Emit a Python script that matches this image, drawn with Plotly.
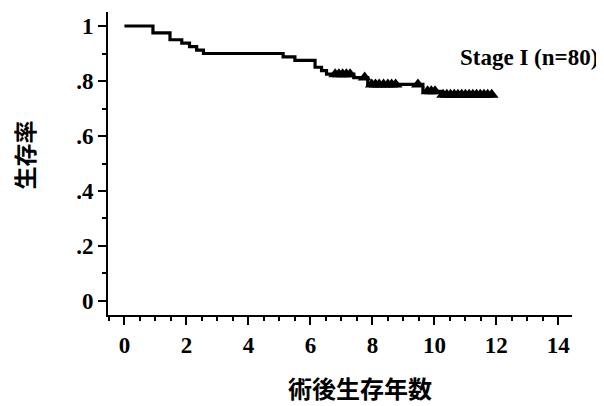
import plotly.graph_objects as go
import numpy as np

# Kaplan-Meier step data (time in years, survival after step)
step_times = [0.0, 0.92, 1.47, 1.85, 2.1, 2.33, 2.55, 5.12, 5.5, 6.15, 6.36, 6.52, 7.4, 7.85, 9.63, 10.2, 11.85]
step_surv = [1.0, 0.975, 0.95, 0.9375, 0.925, 0.9125, 0.9, 0.8875, 0.875, 0.85, 0.8375, 0.825, 0.8125, 0.7875, 0.7625, 0.75, 0.75]

# Censored observations (time in years)
censor_times = [6.8, 6.92, 7.04, 7.16, 7.28, 7.75, 7.98, 8.1, 8.22, 8.36, 8.5, 8.62, 8.75, 9.47,
                9.78, 9.9, 10.02, 10.28, 10.4, 10.52, 10.64, 10.76, 10.88, 11.0, 11.12, 11.24,
                11.36, 11.48, 11.6, 11.72, 11.85]

x_ticks = [0, 2, 4, 6, 8, 10, 12, 14]
y_ticks = [0, 0.2, 0.4, 0.6, 0.8, 1.0]
y_tick_labels = ["0", ".2", ".4", ".6", ".8", "1"]

st = np.array(step_times)
ss = np.array(step_surv)
censor_surv = [float(ss[np.searchsorted(st, t, side="right") - 1]) for t in censor_times]

fig = go.Figure()
fig.add_trace(go.Scatter(x=step_times, y=step_surv, mode="lines", line=dict(shape="hv", color="black", width=3.2),
                         showlegend=False, hoverinfo="skip"))
fig.add_trace(go.Scatter(x=censor_times, y=censor_surv, mode="markers",
                         marker=dict(symbol="triangle-up", size=12, color="black"), showlegend=False, cliponaxis=False))

serif = dict(family="Liberation Serif", size=23, color="black", weight="bold")
cjk = dict(family="Noto Sans CJK JP", size=23, color="black", weight="bold")

fig.add_annotation(x=1.06, xref="paper", y=0.885, yref="y", text="Stage I (n=80)", showarrow=False, xanchor="right",
                   font=dict(family="Liberation Serif", size=23, color="black", weight="bold"))
fig.add_annotation(x=0.543, xref="paper", y=-0.238, yref="paper", text="術後生存年数", showarrow=False,
                   xanchor="center", yanchor="middle", font=dict(family="Noto Sans CJK JP", size=24, color="black", weight="bold"))
fig.add_annotation(x=-0.18, xref="paper", y=0.528, yref="paper", text="生存率", showarrow=False, textangle=-90,
                   xanchor="center", yanchor="middle", font=cjk)

fig.update_layout(
    width=604, height=406,
    margin=dict(l=100, r=40, t=4, b=99),
    paper_bgcolor="white", plot_bgcolor="white",
    xaxis=dict(range=[-0.53, 14.44], tickvals=x_ticks, ticks="outside", ticklen=8, tickwidth=2, tickcolor="black",
               showline=True, linecolor="black", linewidth=2, showgrid=False, zeroline=False, tickfont=serif,
               automargin=False,
               minor=dict(dtick=0.5, tick0=0, ticks="outside", ticklen=4, tickwidth=1.5, tickcolor="black", showgrid=False)),
    yaxis=dict(range=[-0.051, 1.051], tickvals=y_ticks, ticktext=y_tick_labels, ticks="outside", ticklen=8, tickwidth=2,
               tickcolor="black", showline=True, linecolor="black", linewidth=2, showgrid=False, zeroline=False,
               tickfont=serif, automargin=False,
               minor=dict(dtick=0.1, tick0=0, ticks="outside", ticklen=4, tickwidth=1.5, tickcolor="black", showgrid=False)),
)

fig.write_html("out.html")
